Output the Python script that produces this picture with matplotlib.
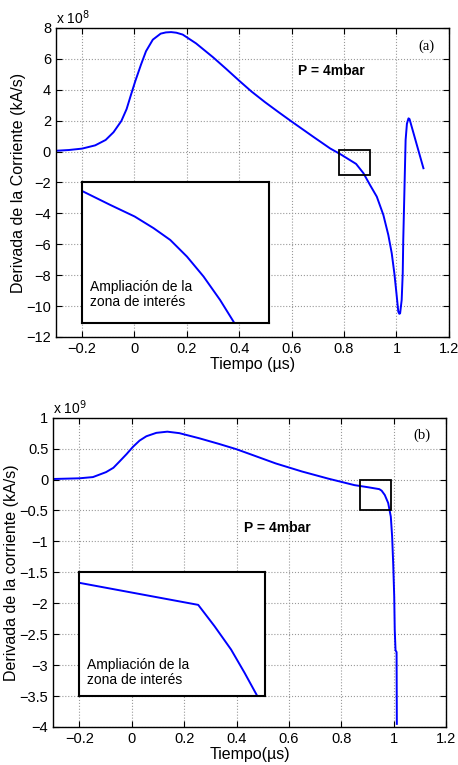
import numpy as np
import matplotlib
matplotlib.use('Agg')
import matplotlib.pyplot as plt

plt.rcParams['font.family'] = ['Liberation Sans', 'DejaVu Sans']
plt.rcParams['font.size'] = 10

#
# Panel (a): dI/dt in units of 1e8 kA/s
#
t_a = [-0.3, -0.25, -0.2, -0.15, -0.11, -0.08, -0.05, -0.03, -0.013, 0.003,
       0.025, 0.044, 0.07, 0.1, 0.12, 0.14, 0.16, 0.184, 0.235, 0.3, 0.35,
       0.402, 0.447, 0.498, 0.55, 0.6, 0.683, 0.747, 0.785, 0.846, 0.874,
       0.899, 0.925, 0.95, 0.969, 0.982, 0.992, 1.0, 1.007, 1.011, 1.014,
       1.02, 1.024, 1.026, 1.029, 1.032, 1.035, 1.04, 1.046, 1.05, 1.075, 1.103]
d_a = [0.05, 0.1, 0.19, 0.4, 0.75, 1.25, 1.98, 2.75, 3.69, 4.55,
       5.63, 6.49, 7.24, 7.63, 7.71, 7.73, 7.69, 7.57, 7.0, 6.1, 5.35,
       4.55, 3.88, 3.2, 2.55, 1.94, 0.95, 0.2, -0.16, -0.8, -1.4,
       -2.16, -2.92, -4.1, -5.4, -6.58, -7.88, -9.17, -10.36, -10.5, -10.47,
       -9.6, -7.88, -5.72, -3.57, -1.4, 0.75, 1.8, 2.15, 2.1, 0.6, -1.08]
# zoomed region (a)
zt_a = [0.7806, 0.798, 0.8137, 0.8258, 0.8365, 0.8472, 0.8578, 0.8684, 0.877]
zd_a = [-0.006, -0.164, -0.301, -0.438, -0.577, -0.773, -1.007, -1.283, -1.538]

#
# Panel (b): dI/dt in units of 1e9 kA/s
#
t_b = [-0.3, -0.2, -0.148, -0.098, -0.07, -0.047, -0.02, 0.005, 0.03, 0.056,
       0.094, 0.136, 0.182, 0.258, 0.334, 0.4, 0.459, 0.55, 0.65, 0.75,
       0.85, 0.903, 0.945, 0.954, 0.966, 0.979, 0.989, 0.994, 0.998, 1.002,
       1.004, 1.007, 1.011, 1.012]
d_b = [0.009, 0.02, 0.04, 0.12, 0.19, 0.29, 0.41, 0.53, 0.63, 0.70,
       0.755, 0.774, 0.75, 0.667, 0.575, 0.49, 0.40, 0.26, 0.13, 0.015,
       -0.09, -0.125, -0.155, -0.18, -0.25, -0.38, -0.6, -0.92, -1.35, -1.89,
       -2.43, -2.76, -2.79, -3.95]
# zoomed region (b)
zt_b = [0.8705, 0.9467, 0.9572, 0.9679, 0.9766, 0.9846]
zd_b = [-0.043, -0.1315, -0.2175, -0.312, -0.406, -0.4975]

xlabels = ['\u22120.2', '0', '0.2', '0.4', '0.6', '0.8', '1', '1.2']


def style_axes(ax):
    ax.grid(True, linestyle=':', color='#999999', linewidth=0.8)
    ax.tick_params(direction='in', top=True, right=True, length=4, labelsize=10.5)
    for s in ax.spines.values():
        s.set_linewidth(1.0)


def make_inset(ax, bounds, xs, ys, xlim, ylim, ty):
    ins = ax.inset_axes(bounds, transform=ax.transData)
    ins.plot(xs, ys, color='#0000ff', linewidth=1.4)
    ins.set_xlim(*xlim)
    ins.set_ylim(*ylim)
    ins.set_xticks([])
    ins.set_yticks([])
    for s in ins.spines.values():
        s.set_linewidth(1.5)
    ins.text(0.043, ty, 'Ampliaci\u00f3n de la\nzona de inter\u00e9s',
             transform=ins.transAxes, fontsize=10, va='center', linespacing=1.1)
    return ins


fig = plt.figure(figsize=(4.58, 7.65), dpi=100)

#
# Top panel
#
ax1 = fig.add_axes([0.122, 0.5595, 0.858, 0.404])
ax1.plot(t_a, d_a, color='#0000ff', linewidth=1.4)
ax1.set_xlim(-0.3, 1.2)
ax1.set_ylim(-12, 8)
ax1.set_xticks(np.arange(-0.2, 1.21, 0.2))
ax1.set_xticklabels(xlabels)
ax1.set_yticks(np.arange(-12, 9, 2))
style_axes(ax1)
ax1.set_xlabel('Tiempo (\u00b5s)', fontsize=11.5, labelpad=1)
ax1.set_ylabel('Derivada de la Corriente (kA/s)', fontsize=11.5, labelpad=0)
ax1.text(0.0, 1.012, r'x 10$^{8}$', transform=ax1.transAxes, fontsize=10)
ax1.text(0.625, 5.2, 'P = 4mbar', fontweight='bold', fontsize=10, va='center')
ax1.text(1.115, 6.8, '(a)', family='Liberation Serif', fontsize=10.5, va='center', ha='center')
ax1.add_patch(plt.Rectangle((0.78, -1.55), 0.12, 1.65, fill=False,
                            edgecolor='k', linewidth=1.3, zorder=5))
make_inset(ax1, [-0.2, -11.07, 0.715, 9.07], zt_a, zd_a, (0.78, 0.9), (-1.55, 0.1), 0.20)

#
# Bottom panel
#
ax2 = fig.add_axes([0.116, 0.0497, 0.858, 0.4043])
ax2.plot(t_b, d_b, color='#0000ff', linewidth=1.4)
ax2.set_xlim(-0.3, 1.2)
ax2.set_ylim(-4, 1)
ax2.set_xticks(np.arange(-0.2, 1.21, 0.2))
ax2.set_xticklabels(xlabels)
ax2.set_yticks(np.arange(-4, 1.01, 0.5))
ax2.set_yticklabels(['\u22124', '\u22123.5', '\u22123', '\u22122.5', '\u22122', '\u22121.5',
                     '\u22121', '\u22120.5', '0', '0.5', '1'])
style_axes(ax2)
ax2.set_xlabel('Tiempo(\u00b5s)', fontsize=11.5, labelpad=1)
ax2.set_ylabel('Derivada de la corriente (kA/s)', fontsize=11.5, labelpad=0)
ax2.text(0.0, 1.012, r'x 10$^{9}$', transform=ax2.transAxes, fontsize=10)
ax2.text(0.429, -0.776, 'P = 4mbar', fontweight='bold', fontsize=10, va='center')
ax2.text(1.106, 0.72, '(b)', family='Liberation Serif', fontsize=10.5, va='center', ha='center')
ax2.add_patch(plt.Rectangle((0.87, -0.5), 0.121, 0.5, fill=False,
                            edgecolor='k', linewidth=1.3, zorder=5))
make_inset(ax2, [-0.2, -3.5, 0.71, 2.0], zt_b, zd_b, (0.87, 0.99), (-0.5, 0.0), 0.19)

fig.savefig('out.png', dpi=100)
